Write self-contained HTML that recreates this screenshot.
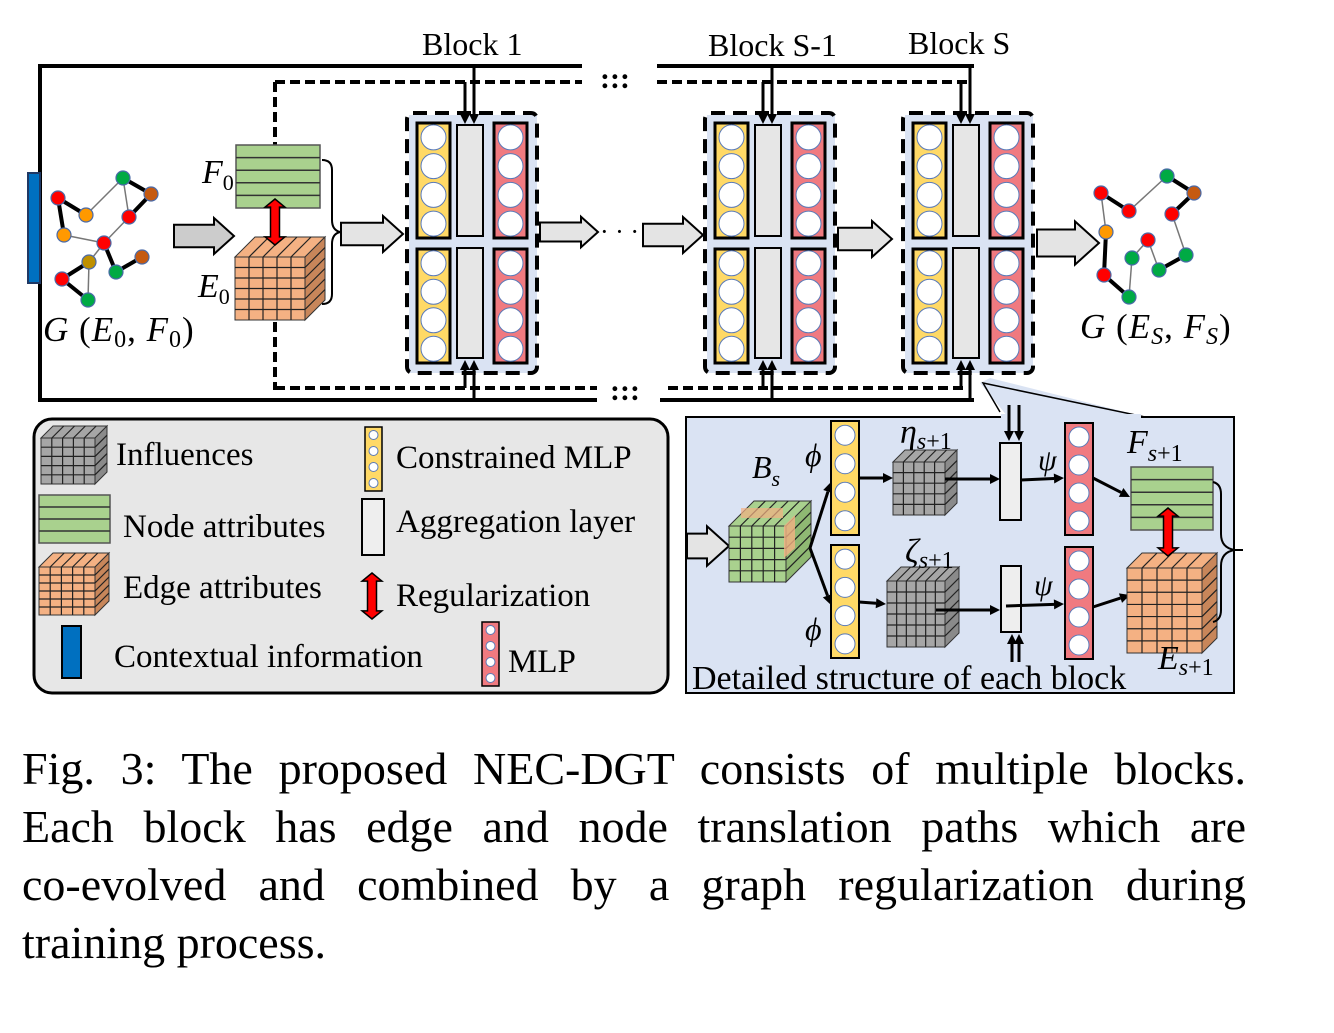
<!DOCTYPE html>
<html><head><meta charset="utf-8">
<style>
html,body{margin:0;padding:0;background:#fff;}
body{width:1334px;height:1033px;position:relative;overflow:hidden;}
svg{position:absolute;left:0;top:0;}
.cap{position:absolute;left:22px;top:740px;width:1224px;font-family:"Liberation Serif",serif;font-size:46px;line-height:58px;color:#000;}
.cap div{text-align:justify;text-align-last:justify;white-space:nowrap;height:58px;}
.cap div.l{text-align-last:left;}
</style></head><body>
<svg id="s" width="1334" height="1033" xmlns="http://www.w3.org/2000/svg" font-family="Liberation Serif, serif"></svg>
<div class="cap"><div>Fig. 3: The proposed NEC-DGT consists of multiple blocks.</div><div>Each block has edge and node translation paths which are</div><div>co-evolved and combined by a graph regularization during</div><div class="l">training process.</div></div>
<script>
var o='';
function a(s){o+=s;}
function rect(x,y,w,h,f,st,sw,extra){a('<rect x="'+x+'" y="'+y+'" width="'+w+'" height="'+h+'" fill="'+f+'" stroke="'+(st||'none')+'" stroke-width="'+(sw||0)+'" '+(extra||'')+'/>');}
function line(x1,y1,x2,y2,c,w,extra){a('<line x1="'+x1+'" y1="'+y1+'" x2="'+x2+'" y2="'+y2+'" stroke="'+(c||'#000')+'" stroke-width="'+(w||3)+'" '+(extra||'')+'/>');}
function text(x,y,t,sz,extra){a('<text x="'+x+'" y="'+y+'" font-size="'+sz+'" '+(extra||'')+'>'+t+'</text>');}
function col(x,y,w,h,f,n,sw){rect(x,y,w,h,f,'#000',sw||3);var r=w/2-4;var step=h/n;for(var i=0;i<n;i++){a('<circle cx="'+(x+w/2)+'" cy="'+(y+step*(i+.5))+'" r="'+Math.min(r,step/2-1)+'" fill="#fff" stroke="#5a7ab8" stroke-width="1"/>');}}
function cube(x,y,w,h,d,f,sf,tf,n,m){
 var fy=y+d;
 a('<polygon points="'+x+','+fy+' '+(x+d)+','+y+' '+(x+w+d)+','+y+' '+(x+w)+','+fy+'" fill="'+tf+'" stroke="#333" stroke-width="1"/>');
 a('<polygon points="'+(x+w)+','+fy+' '+(x+w+d)+','+y+' '+(x+w+d)+','+(y+h)+' '+(x+w)+','+(fy+h)+'" fill="'+sf+'" stroke="#333" stroke-width="1"/>');
 rect(x,fy,w,h,f,'#333',1);
 for(var i=1;i<n;i++){var xx=x+w*i/n;line(xx,fy,xx,fy+h,'#222',1.2);line(xx,fy,xx+d,y,'#222',1.2);}
 for(var j=1;j<m;j++){var yy=fy+h*j/m;line(x,yy,x+w,yy,'#222',1.2);line(x+w,yy,x+w+d,yy-d,'#222',1.2);}
}
function garrow(x,y,w,h,f){var hw=h*0.45,sh=h*0.28,m=y+h/2,hl=h*0.5;
 a('<polygon points="'+x+','+(m-sh)+' '+(x+w-hl)+','+(m-sh)+' '+(x+w-hl)+','+(m-hw)+' '+(x+w)+','+m+' '+(x+w-hl)+','+(m+hw)+' '+(x+w-hl)+','+(m+sh)+' '+x+','+(m+sh)+'" fill="'+(f||'#e4e4e4')+'" stroke="#000" stroke-width="2"/>');}
function redarrow(cx,y1,y2,w){var hw=w*1.1,hl=w*0.9;
 a('<polygon points="'+cx+','+y1+' '+(cx+hw)+','+(y1+hl)+' '+(cx+w/2)+','+(y1+hl)+' '+(cx+w/2)+','+(y2-hl)+' '+(cx+hw)+','+(y2-hl)+' '+cx+','+y2+' '+(cx-hw)+','+(y2-hl)+' '+(cx-w/2)+','+(y2-hl)+' '+(cx-w/2)+','+(y1+hl)+' '+(cx-hw)+','+(y1+hl)+'" fill="#f00" stroke="#000" stroke-width="1.5"/>');}
function green(x,y,w,h,n){rect(x,y,w,h,'#a9d18e','#555',1.5);for(var i=1;i<n;i++)line(x,y+h*i/n,x+w,y+h*i/n,'#333',1.5);}
function arr(x1,y1,x2,y2,w){
 var dx=x2-x1,dy=y2-y1,L=Math.sqrt(dx*dx+dy*dy),ux=dx/L,uy=dy/L,hl=10,hw=5;
 line(x1,y1,x2-ux*hl,y2-uy*hl,'#000',w||3);
 a('<polygon points="'+x2+','+y2+' '+(x2-ux*hl-uy*hw)+','+(y2-uy*hl+ux*hw)+' '+(x2-ux*hl+uy*hw)+','+(y2-uy*hl-ux*hw)+'" fill="#000"/>');}
function graph(nodes,edges){edges.forEach(function(e){var p=nodes[e[0]],q=nodes[e[1]];line(p[0],p[1],q[0],q[1],e[2]?'#000':'#777',e[2]?4:1.5);});
 nodes.forEach(function(n){a('<circle cx="'+n[0]+'" cy="'+n[1]+'" r="7" fill="'+n[2]+'" stroke="#4a6aa8" stroke-width="1.2"/>');});}

text(422,55,'Block 1',32);text(708,56,'Block S-1',32);text(908,54,'Block S',32);
line(38,66,582,66,'#000',4);line(657,66,974,66,'#000',4);
line(40,64,40,402,'#000',4);
line(38,400,597,400,'#000',4);line(660,400,974,400,'#000',4);
text(600,88,':::',30,'font-weight="bold"');text(610,400,':::',30,'font-weight="bold"');
var ds='stroke-dasharray="10,5"';
line(275,82,582,82,'#000',4,ds);line(657,82,968,82,'#000',4,ds);
line(275,82,275,145,'#000',4,ds);line(275,322,275,390,'#000',4,ds);
line(275,388,597,388,'#000',4,ds);line(668,388,968,388,'#000',4,ds);
rect(28,173,12,110,'#0070c0','#1f3864',2);
graph([[58,198,'#f00'],[86,215,'#f90'],[123,178,'#0a4'],[151,194,'#c55a11'],[129,217,'#f00'],[64,235,'#f90'],[104,243,'#f00'],[89,262,'#bf9000'],[142,257,'#c55a11'],[116,272,'#0a4'],[62,279,'#f00'],[88,300,'#0a4']],
 [[0,1,1],[2,3,1],[3,4,1],[10,7,1],[10,11,1],[6,9,1],[9,8,1],[1,2,0],[2,4,0],[0,5,1],[5,6,0],[6,4,0],[6,7,0],[7,11,0]]);
text(43,341,'<tspan font-style="italic">G</tspan> (<tspan font-style="italic">E</tspan><tspan font-size="24" dy="6">0</tspan><tspan dy="-6">, </tspan><tspan font-style="italic">F</tspan><tspan font-size="24" dy="6">0</tspan><tspan dy="-6">)</tspan>',35,'letter-spacing="1"');
garrow(174,216,60,40,'#ccc');
text(202,183,'<tspan font-style="italic">F</tspan><tspan font-size="22" dy="7">0</tspan>',34);
green(236,145,84,63,5);
cube(235,237,70,63,20,'#f4b183','#c8865a','#f4b183',5,6);
redarrow(275,199,245,9);
text(198,297,'<tspan font-style="italic">E</tspan><tspan font-size="22" dy="7">0</tspan>',34);
a('<path d="M322,160 q10,0 10,10 v50 q0,10 8,12 q-8,2 -8,12 v50 q0,10 -10,10" fill="none" stroke="#000" stroke-width="2"/>');
garrow(341,214,62,40);
function block(x){
 a('<rect x="'+(x+2)+'" y="115" width="128" height="258" fill="#dae3f3"/>');
 a('<rect x="'+x+'" y="113" width="130" height="260" rx="6" fill="none" stroke="#000" stroke-width="4" stroke-dasharray="14,8"/>');
 col(x+10,123,33,115,'#ffd966',4);col(x+10,249,33,114,'#ffd966',4);
 rect(x+50,125,26,111,'#e6e6e6','#000',2);rect(x+50,248,26,110,'#e6e6e6','#000',2);
 col(x+87,123,33,115,'#f07a80',4);col(x+87,249,33,114,'#f07a80',4);
 arr(x+67,66,x+67,124,3);arr(x+58,82,x+58,124,3);
 line(x+58,82,x+58,112,'#000',3,'stroke-dasharray="6,3"');
 arr(x+67,400,x+67,360,3);arr(x+58,388,x+58,360,3);
}
block(407);block(705);block(903);
garrow(540,215,58,34);text(600,240,'· · ·',26);garrow(643,215,60,40);
garrow(838,219,54,40);garrow(1037,219,62,48);
graph([[1101,193,'#f00'],[1129,211,'#f00'],[1167,176,'#0a4'],[1194,193,'#c55a11'],[1172,214,'#f00'],[1106,232,'#f90'],[1148,240,'#f00'],[1132,258,'#0a4'],[1186,255,'#0a4'],[1159,270,'#0a4'],[1104,275,'#f00'],[1129,297,'#0a4']],
 [[0,1,1],[1,2,0],[2,3,1],[3,4,1],[4,8,0],[8,9,1],[9,6,0],[6,7,0],[7,11,0],[0,5,0],[5,10,1],[10,11,1]]);
text(1080,338,'<tspan font-style="italic">G</tspan> (<tspan font-style="italic">E</tspan><tspan font-size="24" dy="6" font-style="italic">S</tspan><tspan dy="-6">, </tspan><tspan font-style="italic">F</tspan><tspan font-size="24" dy="6" font-style="italic">S</tspan><tspan dy="-6">)</tspan>',35,'letter-spacing="1"');

rect(34,419,634,274,'#e7e7e7','#000',3,'rx="18"');
cube(41,426,54,46,12,'#a6a6a6','#8a8a8a','#a6a6a6',5,5);
text(116,465,'Influences',33);
green(39,495,71,48,4);
text(123,537,'Node attributes',33);
cube(39,553,56,48,14,'#f4b183','#c8865a','#f4b183',5,6);
text(123,598,'Edge attributes',33);
rect(62,626,19,52,'#0070c0','#000',2);
text(114,667,'Contextual information',33);
col(365,427,17,64,'#ffd966',4,1.5);
text(396,468,'Constrained MLP',33);
rect(362,499,22,56,'#eee','#000',2);
text(396,532,'Aggregation layer',33);
redarrow(372,573,619,9);
text(396,606,'Regularization',33);
col(482,622,17,64,'#f07a80',4,1.5);
text(508,672,'MLP',33);

a('<polygon points="980,383 1008,417 1145,417 990,378" fill="#dae3f3"/>');
rect(686,417,548,276,'#dae3f3','#000',2);
a('<polyline points="1000,412 983,383 1145,417" fill="none" stroke="#000" stroke-width="1.5"/>');
rect(1001,414,140,4,'#dae3f3');
garrow(687,524,42,44);
cube(729,501,57,56,25,'#a9d18e','#8fb873','#a9d18e',5,5);
a('<polygon points="758,526 784,526 795,515 795,548 784,558 784,526" fill="#f4b183" opacity="0.8"/>');
rect(741,508,42,10,'#f4b183','none',0,'opacity="0.7"');
text(752,478,'<tspan font-style="italic">B</tspan><tspan font-size="22" dy="8" font-style="italic">s</tspan>',32);
arr(810,548,831,482,3);arr(810,548,831,605,3);
text(805,466,'<tspan font-style="italic">ϕ</tspan>',32);text(805,640,'<tspan font-style="italic">ϕ</tspan>',32);
col(831,421,28,114,'#ffd966',4,2);col(831,545,28,113,'#ffd966',4,2);
arr(859,478,893,478,3);arr(859,602,886,604,3);
cube(893,450,52,53,12,'#a6a6a6','#8a8a8a','#a6a6a6',5,5);
cube(887,567,58,66,14,'#a6a6a6','#8a8a8a','#a6a6a6',6,6);
text(900,443,'<tspan font-style="italic">η</tspan><tspan font-size="24" dy="6" font-style="italic">s</tspan><tspan font-size="24">+1</tspan>',34);
text(905,562,'<tspan font-style="italic">ζ</tspan><tspan font-size="24" dy="6" font-style="italic">s</tspan><tspan font-size="24">+1</tspan>',34);
arr(945,479,1000,479,3);arr(936,610,1000,610,3);
rect(1000,443,21,77,'#eee','#000',2);rect(1001,566,20,66,'#eee','#000',2);
arr(1009,405,1009,441,3);arr(1019,405,1019,441,3);
arr(1012,662,1012,634,3);arr(1019,662,1019,634,3);
arr(1021,480,1064,478,3);arr(1006,606,1064,604,3);
text(1038,470,'<tspan font-style="italic">ψ</tspan>',30);text(1034,595,'<tspan font-style="italic">ψ</tspan>',30);
col(1065,423,28,112,'#f07a80',4,2);col(1065,547,28,112,'#f07a80',4,2);
arr(1093,478,1130,497,3);arr(1093,607,1130,595,3);
text(1127,453,'<tspan font-style="italic">F</tspan><tspan font-size="24" dy="8" font-style="italic">s</tspan><tspan font-size="24">+1</tspan>',34);
green(1131,467,82,63,5);
cube(1127,553,75,85,15,'#f4b183','#c8865a','#f4b183',5,7);
redarrow(1168,508,556,9);
a('<path d="M1213,482 q8,2 8,12 v40 q0,14 14,16 h8 M1235,550 q-14,2 -14,16 v44 q0,10 -8,12" fill="none" stroke="#000" stroke-width="2"/>');
text(1158,669,'<tspan font-style="italic">E</tspan><tspan font-size="24" dy="6" font-style="italic">s</tspan><tspan font-size="24">+1</tspan>',34);
text(692,689,'Detailed structure of each block',34);
document.getElementById('s').innerHTML=o;
</script>
</body></html>
